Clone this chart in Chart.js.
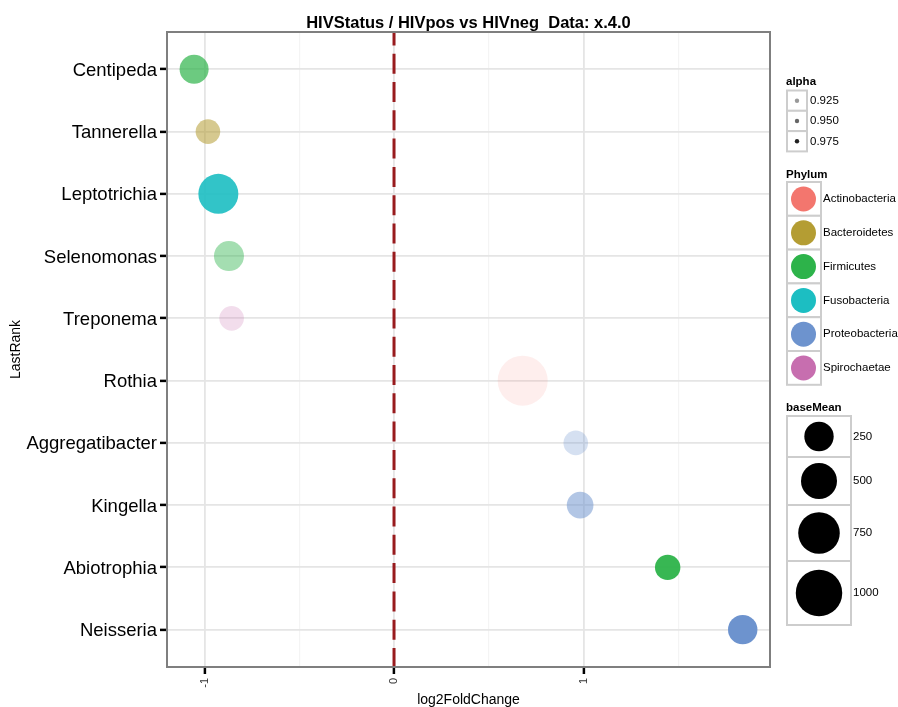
<!DOCTYPE html>
<html>
<head>
<meta charset="utf-8">
<script src="https://cdn.jsdelivr.net/npm/chart.js@4.4.0/dist/chart.umd.min.js"></script>
<style>
html, body { margin: 0; padding: 0; background: #fff; }
</style>
</head>
<body>
<canvas id="chart" width="898" height="707"></canvas>
<script>
var chartTitle = 'HIVStatus / HIVpos vs HIVneg  Data: x.4.0';
var genera = ['Centipeda', 'Tannerella', 'Leptotrichia', 'Selenomonas', 'Treponema',
  'Rothia', 'Aggregatibacter', 'Kingella', 'Abiotrophia', 'Neisseria'];
var log2FC = [-1.055, -0.982, -0.927, -0.871, -0.857, 0.679, 0.959, 0.982, 1.444, 1.840];
var phylum = ['Firmicutes', 'Bacteroidetes', 'Fusobacteria', 'Firmicutes', 'Spirochaetae',
  'Actinobacteria', 'Proteobacteria', 'Proteobacteria', 'Firmicutes', 'Proteobacteria'];
var baseMean = [237, 100, 676, 271, 100, 1197, 100, 160, 123, 250];
var pointAlpha = [0.7, 0.55, 0.9, 0.43, 0.23, 0.12, 0.29, 0.53, 0.95, 1.0];

var phylumNames = ['Actinobacteria', 'Bacteroidetes', 'Firmicutes', 'Fusobacteria', 'Proteobacteria', 'Spirochaetae'];
var phylumColors = ['#F3766E', '#B49D33', '#2DB34A', '#1CBEC2', '#6D93CE', '#C76EAF'];
var alphaLabels = ['0.925', '0.950', '0.975'];
var alphaShades = [0.4, 0.6, 0.87];
var sizeLabels = [250, 500, 750, 1000];
var xTicks = [-1, 0, 1];
var zeroLine = 0;

var FONT = "'Liberation Sans', Arial, Helvetica, sans-serif";

// area of the bubble grows with baseMean
function sizeScale(bm) {
  return Math.sqrt(108 + 0.432 * bm);
}

function hexToRgba(hex, a) {
  var n = parseInt(hex.slice(1), 16);
  return 'rgba(' + (n >> 16) + ',' + ((n >> 8) & 255) + ',' + (n & 255) + ',' + a + ')';
}

function isMajor(v) {
  return Math.abs(v - Math.round(v)) < 1e-6;
}

var points = genera.map(function(g, i) {
  return { x: log2FC[i], y: i + 1, r: sizeScale(baseMean[i]) };
});
var colors = genera.map(function(g, i) {
  return hexToRgba(phylumColors[phylumNames.indexOf(phylum[i])], pointAlpha[i]);
});

var vlinePlugin = {
  id: 'vline',
  beforeDatasetsDraw: function(chart) {
    var ctx = chart.ctx, a = chart.chartArea;
    var x = chart.scales.x.getPixelForValue(zeroLine);
    ctx.save();
    ctx.beginPath();
    ctx.rect(a.left, a.top, a.right - a.left, a.bottom - a.top);
    ctx.clip();
    ctx.strokeStyle = '#981B1E';
    ctx.lineWidth = 3;
    ctx.setLineDash([20, 8.3]);
    ctx.lineDashOffset = 6.6;
    ctx.beginPath();
    ctx.moveTo(x, a.top);
    ctx.lineTo(x, a.bottom);
    ctx.stroke();
    ctx.restore();
  }
};

var framePlugin = {
  id: 'frame',
  afterDatasetsDraw: function(chart) {
    var ctx = chart.ctx, a = chart.chartArea;
    ctx.save();
    ctx.strokeStyle = '#7f7f7f';
    ctx.lineWidth = 2;
    ctx.strokeRect(a.left, a.top, a.right - a.left, a.bottom - a.top);
    ctx.restore();
  }
};

var titlePlugin = {
  id: 'ggtitle',
  afterDraw: function(chart) {
    var ctx = chart.ctx, a = chart.chartArea;
    ctx.save();
    ctx.fillStyle = '#000';
    ctx.font = 'bold 16.5px ' + FONT;
    ctx.textAlign = 'center';
    ctx.textBaseline = 'alphabetic';
    ctx.fillText(chartTitle, (a.left + a.right) / 2, 27.5);
    ctx.restore();
  }
};

function keyBox(ctx, x, y, w, h) {
  ctx.fillStyle = '#fff';
  ctx.fillRect(x, y, w, h);
  ctx.strokeStyle = '#cdcdcd';
  ctx.lineWidth = 2;
  ctx.strokeRect(x, y, w, h);
}

function dot(ctx, x, y, r, color) {
  ctx.fillStyle = color;
  ctx.beginPath();
  ctx.arc(x, y, r, 0, Math.PI * 2);
  ctx.fill();
}

var legendPlugin = {
  id: 'gglegend',
  afterDraw: function(chart) {
    var ctx = chart.ctx;
    var lx = 787;
    ctx.save();
    ctx.textBaseline = 'middle';
    ctx.textAlign = 'left';

    // alpha
    ctx.fillStyle = '#000';
    ctx.font = 'bold 11.5px ' + FONT;
    ctx.fillText('alpha', 786, 82);
    alphaLabels.forEach(function(lab, i) {
      var y = 90.5 + i * 20.3;
      keyBox(ctx, lx, y, 20, 20.3);
      dot(ctx, lx + 10, y + 10.2, 2.2, 'rgba(0,0,0,' + alphaShades[i] + ')');
      ctx.fillStyle = '#000';
      ctx.font = '11.5px ' + FONT;
      ctx.fillText(lab, 810, y + 10.5);
    });

    // Phylum
    ctx.fillStyle = '#000';
    ctx.font = 'bold 11.5px ' + FONT;
    ctx.fillText('Phylum', 786, 175);
    phylumNames.forEach(function(name, i) {
      var y = 182 + i * 33.8;
      keyBox(ctx, lx, y, 34, 33.8);
      dot(ctx, lx + 16.5, y + 17, 12.5, phylumColors[i]);
      ctx.fillStyle = '#000';
      ctx.font = '11.5px ' + FONT;
      ctx.fillText(name, 823, y + 17);
    });

    // baseMean
    ctx.fillStyle = '#000';
    ctx.font = 'bold 11.5px ' + FONT;
    ctx.fillText('baseMean', 786, 408);
    var rowH = [41, 48, 56, 64];
    var y = 416;
    sizeLabels.forEach(function(v, i) {
      keyBox(ctx, lx, y, 64, rowH[i]);
      dot(ctx, lx + 32, y + rowH[i] / 2, sizeScale(v), '#000');
      ctx.fillStyle = '#000';
      ctx.font = '11.5px ' + FONT;
      ctx.fillText(String(v), 853, y + rowH[i] / 2);
      y += rowH[i];
    });
    ctx.restore();
  }
};

var ctx = document.getElementById('chart').getContext('2d');
var chart = new Chart(ctx, {
  type: 'bubble',
  data: {
    datasets: [{
      data: points,
      backgroundColor: colors,
      borderWidth: 0,
      hoverBorderWidth: 0
    }]
  },
  options: {
    responsive: false,
    animation: false,
    devicePixelRatio: 1,
    layout: { padding: { top: 32, right: 128, bottom: 0, left: 0 } },
    plugins: {
      legend: { display: false },
      tooltip: { enabled: false },
      title: { display: false }
    },
    scales: {
      x: {
        type: 'linear',
        min: -1.198,
        max: 1.984,
        border: { display: false },
        afterFit: function(s) { s.height = 40; },
        grid: {
          color: function(c) { return isMajor(c.tick.value) ? '#e5e5e5' : '#f4f4f4'; },
          lineWidth: function(c) { return isMajor(c.tick.value) ? 1.8 : 1.2; },
          tickColor: function(c) { return isMajor(c.tick.value) ? '#000' : 'rgba(0,0,0,0)'; },
          tickLength: 7,
          tickWidth: 2.5
        },
        ticks: {
          stepSize: 0.5,
          includeBounds: false,
          autoSkip: false,
          minRotation: 90,
          maxRotation: 90,
          padding: 4,
          color: '#333',
          font: { family: FONT, size: 11 },
          callback: function(v) {
            return xTicks.indexOf(Math.round(v)) >= 0 && isMajor(v) ? String(Math.round(v)) : '';
          }
        },
        title: {
          display: true,
          text: 'log2FoldChange',
          color: '#000',
          font: { family: FONT, size: 14, lineHeight: 1 },
          padding: { top: 0, bottom: 0 }
        }
      },
      y: {
        type: 'linear',
        min: 0.4,
        max: 10.6,
        reverse: true,
        border: { display: false },
        afterFit: function(s) { s.width = 167; },
        grid: {
          color: '#e5e5e5',
          lineWidth: 1.8,
          tickColor: '#000',
          tickLength: 7,
          tickWidth: 2.5
        },
        ticks: {
          stepSize: 1,
          includeBounds: false,
          autoSkip: false,
          padding: 3,
          labelOffset: 1.5,
          color: '#000',
          font: { family: FONT, size: 18.5 },
          callback: function(v) { return genera[Math.round(v) - 1] || ''; }
        },
        title: {
          display: true,
          text: 'LastRank',
          color: '#000',
          font: { family: FONT, size: 14, lineHeight: 1 },
          padding: { top: 9, bottom: 0 }
        }
      }
    }
  },
  plugins: [vlinePlugin, framePlugin, titlePlugin, legendPlugin]
});
</script>
</body>
</html>
